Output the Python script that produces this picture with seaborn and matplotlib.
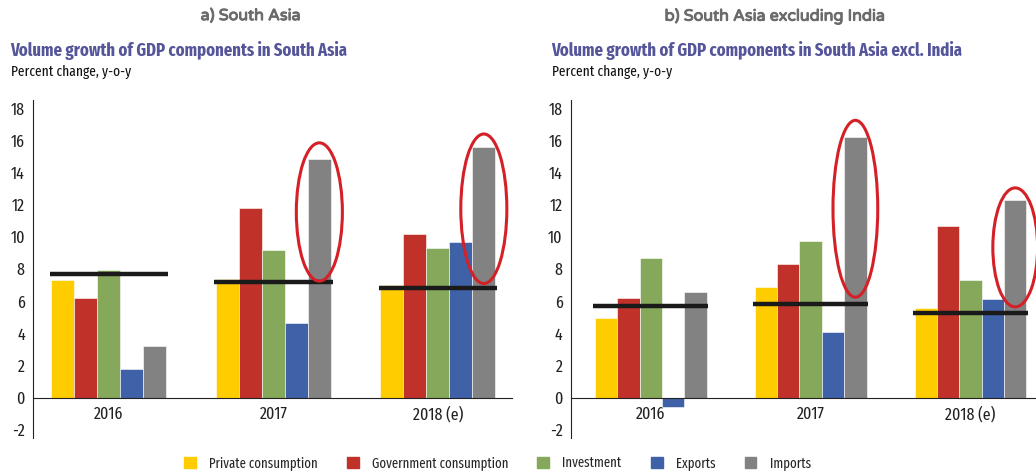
import numpy as np
import pandas as pd
import matplotlib.pyplot as plt
import matplotlib.patheffects as pe
from matplotlib.patches import Ellipse
import seaborn as sns

sns.set_style('white')
plt.rcParams['font.family'] = ['Fira Sans Extra Condensed', 'Fira Sans Condensed', 'DejaVu Sans']
plt.rcParams['axes.unicode_minus'] = False

years = ['2016', '2017', '2018 (e)']
components = ['Private consumption', 'Government consumption', 'Investment', 'Exports', 'Imports']
colours = ['#FFCC00', '#C0312A', '#86A85A', '#3F61A8', '#828282']

# panel a) South Asia
sa_private = [7.35, 7.4, 7.0]
sa_gov = [6.2, 11.8, 10.2]
sa_invest = [7.95, 9.2, 9.3]
sa_exports = [1.8, 4.65, 9.7]
sa_imports = [3.2, 14.85, 15.6]
sa_gdp = [7.7, 7.2, 6.8]

# panel b) South Asia excluding India
sx_private = [4.95, 6.9, 5.6]
sx_gov = [6.2, 8.3, 10.65]
sx_invest = [8.7, 9.75, 7.3]
sx_exports = [-0.55, 4.1, 6.15]
sx_imports = [6.55, 16.2, 12.3]
sx_gdp = [5.7, 5.85, 5.3]

# red ellipses around imports bars: (year index, centre y, height)
sa_circles = [(1, 11.55, 8.6), (2, 11.75, 9.3)]
sx_circles = [(1, 11.75, 11.0), (2, 9.35, 7.4)]


def to_long(series):
    rows = []
    for comp, vals in zip(components, series):
        for yr, v in zip(years, vals):
            rows.append({'year': yr, 'component': comp, 'value': v})
    return pd.DataFrame(rows)


def draw_panel(ax, series, gdp, circles, xlim):
    df = to_long(series)
    sns.barplot(data=df, x='year', y='value', hue='component', hue_order=components,
                palette=colours, saturation=1, width=0.7, dodge=True, ax=ax,
                legend=False, edgecolor='white', linewidth=0.4)
    # GDP growth lines
    for i, g in enumerate(gdp):
        ax.hlines(g, i - 0.36, i + 0.36, color='#1a1a1a', lw=3.2, zorder=5)
    for i, cy, h in circles:
        ax.add_patch(Ellipse((i + 0.28, cy), 0.28, h, fill=False,
                             edgecolor='#D42027', lw=2.2, zorder=6))
    ax.set_ylim(-2.5, 18.5)
    ax.set_xlim(*xlim)
    ax.set_yticks(np.arange(-2, 19, 2))
    ax.set_xlabel('')
    ax.set_ylabel('')
    ax.spines['top'].set_visible(False)
    ax.spines['right'].set_visible(False)
    ax.spines['bottom'].set_position(('data', 0))
    ax.spines['bottom'].set_color('#222222')
    ax.spines['left'].set_color('#222222')
    ax.tick_params(axis='y', length=0, pad=6, labelsize=12.5, labelcolor='#222222')
    ax.tick_params(axis='x', length=0, pad=6, labelsize=12.5, labelcolor='#222222')


fig = plt.figure(figsize=(10.36, 4.75), dpi=100)
ax1 = fig.add_axes([0.032, 0.078, 0.462, 0.711])
ax2 = fig.add_axes([0.551, 0.078, 0.449, 0.711])

draw_panel(ax1, [sa_private, sa_gov, sa_invest, sa_exports, sa_imports], sa_gdp,
           sa_circles, (-0.46, 2.45))
draw_panel(ax2, [sx_private, sx_gov, sx_invest, sx_exports, sx_imports], sx_gdp,
           sx_circles, (-0.5, 2.41))

head_font = ['Varela Round', 'Open Sans', 'DejaVu Sans']
bolder = [pe.withStroke(linewidth=0.7, foreground='#6b6b6b')]
fig.text(0.242, 0.965, 'a) South Asia', ha='center', va='center', fontsize=11.5,
         color='#6b6b6b', family=head_font, path_effects=bolder)
fig.text(0.748, 0.965, 'b) South Asia excluding India', ha='center', va='center',
         fontsize=11.5, color='#6b6b6b', family=head_font, path_effects=bolder)

fig.text(0.010, 0.893, 'Volume growth of GDP components in South Asia', ha='left',
         va='center', fontsize=13, color='#55559A', fontweight='bold')
fig.text(0.532, 0.893, 'Volume growth of GDP components in South Asia excl. India',
         ha='left', va='center', fontsize=13, color='#55559A', fontweight='bold')
fig.text(0.011, 0.848, 'Percent change, y-o-y', ha='left', va='center', fontsize=10.5,
         color='#111111')
fig.text(0.533, 0.848, 'Percent change, y-o-y', ha='left', va='center', fontsize=10.5,
         color='#111111')

handles = [plt.Rectangle((0, 0), 1, 1, color=c) for c in colours]
fig.legend(handles, components, loc='center', bbox_to_anchor=(0.48, 0.025), ncol=5,
           frameon=False, fontsize=10, handlelength=0.85, handleheight=0.85,
           columnspacing=2.1, handletextpad=0.95)

fig.savefig('out.png', dpi=100)
plt.close()
